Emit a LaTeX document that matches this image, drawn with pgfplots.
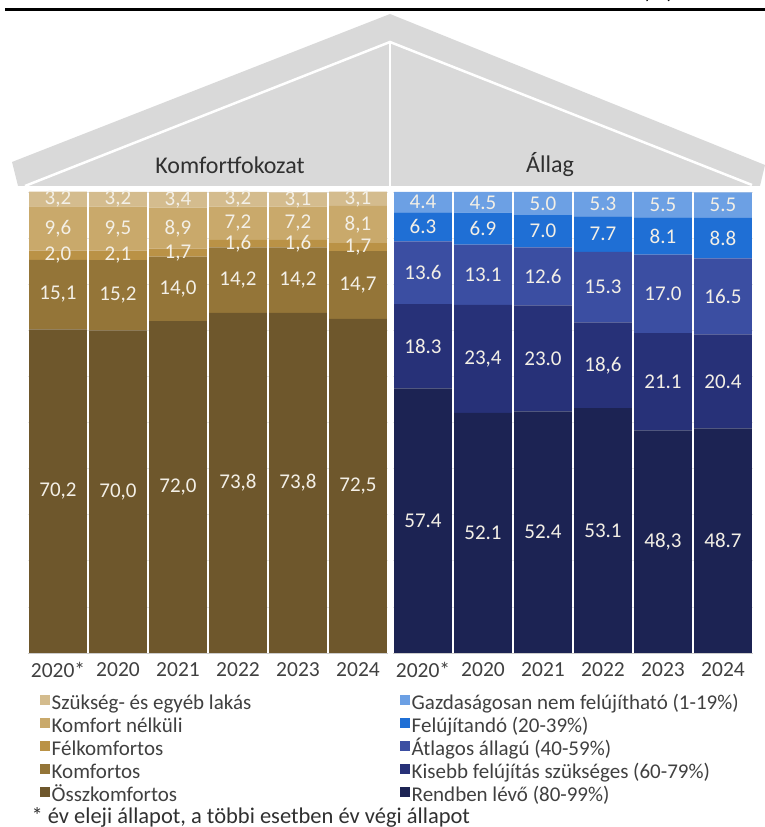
\documentclass[border=0pt]{standalone}
\usepackage{fontspec}
\setmainfont{Carlito}
\usepackage{pgfplots}
\pgfplotsset{compat=1.18}
\definecolor{szuk}{HTML}{D4BC8E}
\definecolor{nelk}{HTML}{C9A96B}
\definecolor{felk}{HTML}{BA9246}
\definecolor{komf}{HTML}{947538}
\definecolor{ossz}{HTML}{6E572C}
\definecolor{gazd}{HTML}{6CA0E4}
\definecolor{felu}{HTML}{1F6FD5}
\definecolor{atl}{HTML}{3B4EA2}
\definecolor{kis}{HTML}{273178}
\definecolor{rend}{HTML}{1C2353}
\definecolor{roofgray}{HTML}{D9D9D9}
\definecolor{ctext}{HTML}{404040}
\definecolor{ctitle}{HTML}{303030}
\definecolor{lab}{HTML}{F3EFE6}
\definecolor{gridc}{HTML}{E6E6E6}
\pgfplotsset{
  panel/.style={
    at={(#1pt,174pt)}, anchor=south west, scale only axis, width=360pt, height=461pt,
    xmin=-0.5, xmax=5.5, ymin=0, ymax=100,
    axis line style={draw=none},
    xtick={0,...,5}, xticklabels={2020*,2020,2021,2022,2023,2024},
    ytick={0,10,...,100}, yticklabels={},
    major tick length=0pt,
    ymajorgrids, grid style={draw=gridc, line width=0.6pt},
    x tick label style={font=\fontsize{21.5}{24}\selectfont, text=ctext, yshift=-6pt},
    clip=false,
    ybar stacked, bar width=0.965,
    legend style={at={(0,0)}, anchor=north west, yshift=-42pt, draw=none, fill=none,
      inner sep=0pt, font=\fontsize{21}{23}\selectfont, text=ctext, row sep=4pt,
      nodes={inner sep=0pt, text height=14pt, text depth=5pt},
      /tikz/every odd column/.append style={column sep=2pt}},
    legend cell align=left,
    reverse legend,
    legend image code/.code={\fill[##1] (0pt,0pt) rectangle (9.5pt,9.5pt);},
  },
  labels/.style={
    at={(#1pt,174pt)}, anchor=south west, scale only axis, width=360pt, height=461pt,
    xmin=-0.5, xmax=5.5, ymin=0, ymax=100, hide axis, clip=false,
    nodes near coords, point meta=explicit symbolic,
    every node near coord/.style={anchor=center, font=\fontsize{21}{23}\selectfont, text=lab, inner sep=0pt},
  },
}
\begin{document}
\begin{tikzpicture}[x=1pt,y=1pt]
\useasboundingbox (0pt,0pt) rectangle (765pt,827pt);
% roof
\fill[roofgray] (12pt,665pt) -- (390pt,813pt) -- (765pt,662pt) -- (760pt,641pt) -- (18pt,641pt) -- cycle;
\draw[white, line width=2.5pt] (25pt,641pt) -- (390pt,785pt) -- (752pt,642pt);
\draw[white, line width=2pt] (390pt,785pt) -- (390pt,636pt);
\node[font=\fontsize{24}{26}\selectfont, text=ctitle] at (230pt,662pt) {Komfortfokozat};
\node[font=\fontsize{24}{26}\selectfont, text=ctitle] at (550pt,662pt) {Állag};
% top rule and cut-off unit
\fill[black] (5pt,815.5pt) rectangle (765pt,818.5pt);
\node[font=\fontsize{24}{26}\selectfont, anchor=base] at (658pt,828pt) {(\%)};

% ---- left panel: Komfortfokozat
\begin{axis}[panel=28, legend style={xshift=12pt}]
\addplot[fill=ossz, draw=none] coordinates {(0,70.2) (1,70.0) (2,72.0) (3,73.8) (4,73.8) (5,72.5)};
\addlegendentry{Összkomfortos}
\addplot[fill=komf, draw=none] coordinates {(0,15.1) (1,15.2) (2,14.0) (3,14.2) (4,14.2) (5,14.7)};
\addlegendentry{Komfortos}
\addplot[fill=felk, draw=none] coordinates {(0,2.0) (1,2.1) (2,1.7) (3,1.6) (4,1.6) (5,1.7)};
\addlegendentry{Félkomfortos}
\addplot[fill=nelk, draw=none] coordinates {(0,9.6) (1,9.5) (2,8.9) (3,7.2) (4,7.2) (5,8.1)};
\addlegendentry{Komfort nélküli}
\addplot[fill=szuk, draw=none] coordinates {(0,3.2) (1,3.2) (2,3.4) (3,3.2) (4,3.1) (5,3.1)};
\addlegendentry{Szükség- és egyéb lakás}
\draw[gray!40, line width=0.8pt] (rel axis cs:0,0) -- (rel axis cs:1,0);
\end{axis}
\begin{axis}[labels=28]
\addplot[draw=none, mark=none] table[x=x, y=y, meta=l] {
x y l
0 35.1 70,2
0 77.75 15,1
0 86.3 2,0
0 92.1 9,6
0 98.5 3,2
1 35.0 70,0
1 77.6 15,2
1 86.25 2,1
1 92.05 9,5
1 98.4 3,2
2 36.0 72,0
2 79.0 14,0
2 86.85 1,7
2 92.15 8,9
2 98.3 3,4
3 36.9 73,8
3 80.9 14,2
3 88.8 1,6
3 93.2 7,2
3 98.4 3,2
4 36.9 73,8
4 80.9 14,2
4 88.8 1,6
4 93.2 7,2
4 98.35 3,1
5 36.25 72,5
5 79.85 14,7
5 88.05 1,7
5 92.95 8,1
5 98.55 3,1
};
\end{axis}

% ---- right panel: Állag
\begin{axis}[panel=393, legend style={xshift=7pt}]
\addplot[fill=rend, draw=none] coordinates {(0,57.4) (1,52.1) (2,52.4) (3,53.1) (4,48.3) (5,48.7)};
\addlegendentry{Rendben lévő (80-99\%)}
\addplot[fill=kis, draw=none] coordinates {(0,18.3) (1,23.4) (2,23.0) (3,18.6) (4,21.1) (5,20.4)};
\addlegendentry{Kisebb felújítás szükséges (60-79\%)}
\addplot[fill=atl, draw=none] coordinates {(0,13.6) (1,13.1) (2,12.6) (3,15.3) (4,17.0) (5,16.5)};
\addlegendentry{Átlagos állagú (40-59\%)}
\addplot[fill=felu, draw=none] coordinates {(0,6.3) (1,6.9) (2,7.0) (3,7.7) (4,8.1) (5,8.8)};
\addlegendentry{Felújítandó (20-39\%)}
\addplot[fill=gazd, draw=none] coordinates {(0,4.4) (1,4.5) (2,5.0) (3,5.3) (4,5.5) (5,5.5)};
\addlegendentry{Gazdaságosan nem felújítható (1-19\%)}
\draw[gray!40, line width=0.8pt] (rel axis cs:0,0) -- (rel axis cs:1,0);
\end{axis}
\begin{axis}[labels=393]
\addplot[draw=none, mark=none] table[x=x, y=y, meta=l] {
x y l
0 28.7 57.4
0 66.55 18.3
0 82.5 13.6
0 92.45 6.3
0 97.8 4.4
1 26.05 52.1
1 63.8 23,4
1 82.05 13.1
1 92.05 6.9
1 97.75 4.5
2 26.2 52.4
2 63.9 23.0
2 81.7 12.6
2 91.5 7.0
2 97.5 5.0
3 26.55 53.1
3 62.4 18,6
3 79.35 15.3
3 90.85 7.7
3 97.35 5.3
4 24.15 48,3
4 58.85 21.1
4 77.9 17.0
4 90.45 8.1
4 97.25 5.5
5 24.35 48.7
5 58.9 20.4
5 77.35 16.5
5 90.0 8.8
5 97.15 5.5
};
\end{axis}

\node[anchor=base west, font=\fontsize{22.5}{25}\selectfont, text=ctitle] at (28pt,4pt) {* év eleji állapot, a többi esetben év végi állapot};
\end{tikzpicture}
\end{document}
